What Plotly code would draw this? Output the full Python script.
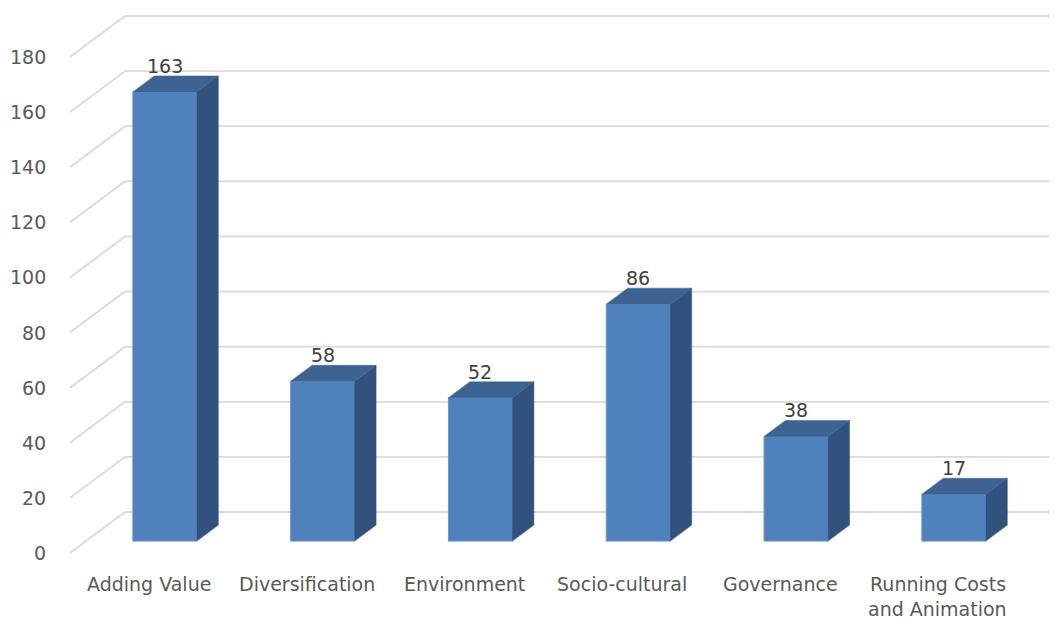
import plotly.graph_objects as go

# ---- data ----
categories = ["Adding Value", "Diversification", "Environment", "Socio-cultural",
              "Governance", "Running Costs<br>and Animation"]
values = [163, 58, 52, 86, 38, 17]
y_ticks = [0, 20, 40, 60, 80, 100, 120, 140, 160, 180]

# ---- geometry / style (page pixel references) ----
W, H = 1057, 621
OFF = 8                           # default page body margin
X0_PX, CAT_PX = 70, 157.8         # front-left floor corner, category width (px)
Y0_PX, UNIT_PX = 553, 2.7556      # front floor y (px), px per value unit
DEPTH_DX = 55 / CAT_PX            # full depth offset in x data units
DEPTH_DY = 41 / UNIT_PX           # full depth offset in y data units
BAR_W = 64 / CAT_PX
D_FRONT, D_BACK = 0.29, 0.68
FRONT_C, TOP_C, SIDE_C = "#4F81BD", "#3C6391", "#31527C"
GRID_C = "#D9D9D9"
FONT = "DejaVu Sans"
FS = 19


def px_x(p):
    return (p - X0_PX) / CAT_PX


def px_y(p):
    return (Y0_PX - p) / UNIT_PX


xr = [px_x(OFF), px_x(W)]
yr = [px_y(H), px_y(OFF)]

fig = go.Figure()

# gridlines (below traces): slanted floor part + back wall horizontal part
shapes = []
for t in y_ticks:
    shapes.append(dict(type="line", xref="x", yref="y", x0=0, y0=t,
                       x1=DEPTH_DX, y1=t + DEPTH_DY, layer="below",
                       line=dict(color=GRID_C, width=1.8)))
    shapes.append(dict(type="line", xref="x", yref="y", x0=DEPTH_DX, y0=t + DEPTH_DY,
                       x1=xr[1], y1=t + DEPTH_DY, layer="below",
                       line=dict(color=GRID_C, width=1.8)))

# bars
ddx = (D_BACK - D_FRONT) * DEPTH_DX
ddy = (D_BACK - D_FRONT) * DEPTH_DY
base = D_FRONT * DEPTH_DY
centers = [i + 0.5 + D_FRONT * DEPTH_DX for i in range(len(values))]
for c, v in zip(centers, values):
    xl, xrr = c - BAR_W / 2, c + BAR_W / 2
    top = base + v
    fig.add_trace(go.Scatter(x=[xrr, xrr, xrr + ddx, xrr + ddx, xrr],
                             y=[base, top, top + ddy, base + ddy, base],
                             mode="lines", fill="toself", fillcolor=SIDE_C,
                             line=dict(color=SIDE_C, width=0.5), hoverinfo="skip",
                             showlegend=False))
    fig.add_trace(go.Scatter(x=[xl, xrr, xrr + ddx, xl + ddx, xl],
                             y=[top, top, top + ddy, top + ddy, top],
                             mode="lines", fill="toself", fillcolor=TOP_C,
                             line=dict(color=TOP_C, width=0.5), hoverinfo="skip",
                             showlegend=False))

fig.add_trace(go.Bar(x=centers, y=values, base=base, width=BAR_W,
                     marker=dict(color=FRONT_C, line=dict(color="#6A96CC", width=1)),
                     hoverinfo="skip", showlegend=False))

annotations = []
# value labels
for c, v in zip(centers, values):
    annotations.append(dict(x=c, y=base + v + ddy + 10 / UNIT_PX, text=str(v),
                            showarrow=False, xanchor="center", yanchor="middle",
                            font=dict(family=FONT, size=FS, color="#404040")))
# y tick labels
for t in y_ticks:
    annotations.append(dict(x=px_x(48), y=t, text=str(t), showarrow=False,
                            xanchor="right", yanchor="middle",
                            font=dict(family=FONT, size=FS, color="#595959")))
# category labels (multi-line labels placed line by line)
LINE_PX = 25
for i, cat in enumerate(categories):
    for j, line in enumerate(cat.split("<br>")):
        annotations.append(dict(x=i + 0.5, y=px_y(584 + j * LINE_PX), text=line,
                                showarrow=False, xanchor="center", yanchor="middle",
                                borderpad=0,
                                font=dict(family=FONT, size=FS, color="#595959")))

fig.update_layout(
    width=W - OFF, height=H - OFF, margin=dict(l=0, r=0, t=0, b=0),
    paper_bgcolor="white", plot_bgcolor="white",
    xaxis=dict(range=xr, visible=False, fixedrange=True),
    yaxis=dict(range=yr, visible=False, fixedrange=True),
    annotations=annotations, shapes=shapes, showlegend=False,
)

fig.write_html("out.html")
